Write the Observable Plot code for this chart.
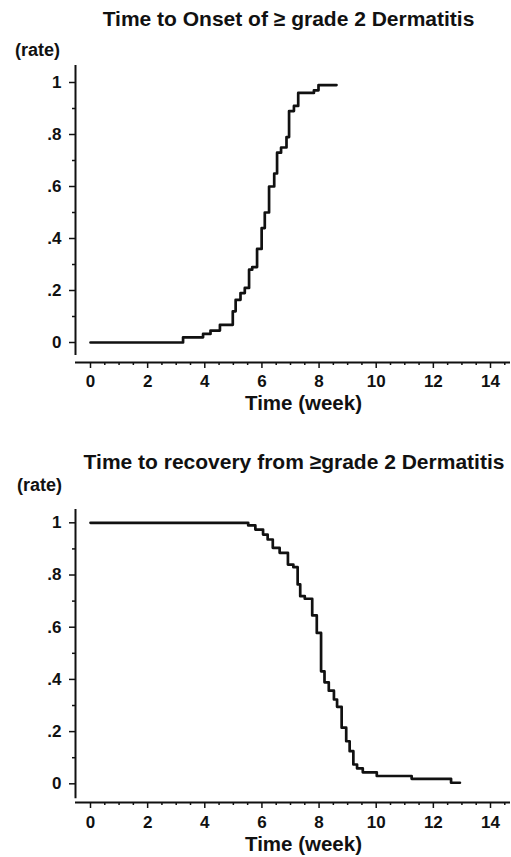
<!DOCTYPE html>
<html><head><meta charset="utf-8">
<script src="https://cdn.jsdelivr.net/npm/d3@7"></script>
<script src="https://cdn.jsdelivr.net/npm/@observablehq/plot@0.6"></script>
<style>
body{margin:0;background:#fff;}
#chart svg{display:block;}
</style></head><body><div id="chart"></div>
<script>
// Top panel: cumulative onset of >= grade 2 dermatitis (step function)
const onsetWeeks = [0, 3.24, 3.94, 4.2, 4.53, 4.98, 5.08, 5.25, 5.4, 5.55, 5.66, 5.83, 5.99, 6.1, 6.25, 6.43, 6.53, 6.67, 6.86, 6.95, 7.12, 7.27, 7.82, 7.98, 8.61];
const onsetRates = [0, 0.02, 0.033, 0.046, 0.068, 0.12, 0.164, 0.19, 0.21, 0.28, 0.29, 0.36, 0.44, 0.5, 0.6, 0.65, 0.73, 0.75, 0.79, 0.89, 0.91, 0.96, 0.97, 0.99, 0.99];
// Bottom panel: proportion not yet recovered
const recoveryWeeks = [0, 5.52, 5.77, 6.04, 6.2, 6.38, 6.62, 6.91, 7.1, 7.25, 7.34, 7.5, 7.76, 7.92, 8.07, 8.19, 8.34, 8.52, 8.63, 8.79, 8.95, 9.07, 9.2, 9.33, 9.53, 10.02, 11.24, 12.62, 12.93];
const recoveryRates = [1, 0.99, 0.974, 0.955, 0.936, 0.904, 0.885, 0.84, 0.83, 0.764, 0.719, 0.709, 0.645, 0.578, 0.431, 0.389, 0.357, 0.323, 0.295, 0.215, 0.163, 0.125, 0.074, 0.059, 0.044, 0.03, 0.019, 0.004, 0.004];

const xMajorTicks = [0, 2, 4, 6, 8, 10, 12, 14];
const xMinorTicks = [0.5, 1, 1.5, 2.5, 3, 3.5, 4.5, 5, 5.5, 6.5, 7, 7.5, 8.5, 9, 9.5, 10.5, 11, 11.5, 12.5, 13, 13.5, 14.5];
const yMajorTicks = [0, 0.2, 0.4, 0.6, 0.8, 1];
const yTickLabels = ["0", ".2", ".4", ".6", ".8", "1"];
const yMinorTicks = [0.1, 0.3, 0.5, 0.7, 0.9];
const titles = ["Time to Onset of \u2265 grade 2 Dermatitis", "Time to recovery from \u2265grade 2 Dermatitis"];
const xLabel = "Time (week)";
const yLabel = "(rate)";
const xDomain = [-0.525, 14.7];

function panel(o) {
  const data = o.weeks.map((w, i) => ({week: w, rate: o.rates[i]}));
  const ink = "#111";
  return Plot.plot({
    width: 511,
    height: 428,
    marginLeft: 75,
    marginRight: 1,
    marginTop: o.marginTop,
    marginBottom: o.marginBottom,
    x: {domain: xDomain},
    y: {domain: o.yDomain},
    style: {fontFamily: "'Liberation Sans', Arial, sans-serif", fontWeight: "bold", color: ink, background: "#fff", overflow: "visible"},
    marks: [
      Plot.ruleX([xDomain[0]], {y1: o.yAxisBottom, y2: o.yDomain[1], stroke: ink, strokeWidth: 2}),
      Plot.ruleY([o.yDomain[0]], {stroke: ink, strokeWidth: 2}),
      Plot.axisY(yMinorTicks, {anchor: "left", tickSize: 3, tickFormat: () => "", label: null, strokeWidth: 1.5}),
      Plot.axisY(yMajorTicks, {anchor: "left", tickSize: 6, tickPadding: 8, tickFormat: d => yTickLabels[yMajorTicks.indexOf(d)], fontSize: 17, label: null, strokeWidth: 1.5}),
      Plot.axisX(xMinorTicks, {anchor: "bottom", tickSize: 3, tickFormat: () => "", label: null, strokeWidth: 1.5}),
      Plot.axisX(xMajorTicks, {anchor: "bottom", tickSize: 6, tickPadding: o.tickPad, fontSize: 17, label: null, strokeWidth: 1.5}),
      Plot.line(data, {x: "week", y: "rate", curve: "step-after", stroke: ink, strokeWidth: 2.7}),
      Plot.text([o.title], {frameAnchor: "top", dx: o.titleDx, dy: o.titleDy, lineAnchor: "middle", fontSize: 21, fill: ink}),
      Plot.text([yLabel], {frameAnchor: "top-left", textAnchor: "middle", dx: o.rateDx, dy: o.rateDy, lineAnchor: "middle", fontSize: 18, fill: ink}),
      Plot.text([xLabel], {frameAnchor: "bottom", dx: 10.5, dy: o.xLabelDy, lineAnchor: "middle", fontSize: 20.5, fill: ink})
    ]
  });
}

const chart = document.getElementById("chart");
chart.appendChild(panel({
  weeks: onsetWeeks, rates: onsetRates, title: titles[0],
  marginTop: 65, marginBottom: 66, yDomain: [-0.0769, 1.0654], yAxisBottom: -0.05,
  tickPad: 6, titleDx: -4.5, titleDy: -46, rateDx: -38, rateDy: -15, xLabelDy: 41
}));
chart.appendChild(panel({
  weeks: recoveryWeeks, rates: recoveryRates, title: titles[1],
  marginTop: 81, marginBottom: 54, yDomain: [-0.0716, 1.051], yAxisBottom: -0.0575,
  tickPad: 7, titleDx: 1, titleDy: -47, rateDx: -36, rateDy: -24, xLabelDy: 42
}));
</script></body></html>
